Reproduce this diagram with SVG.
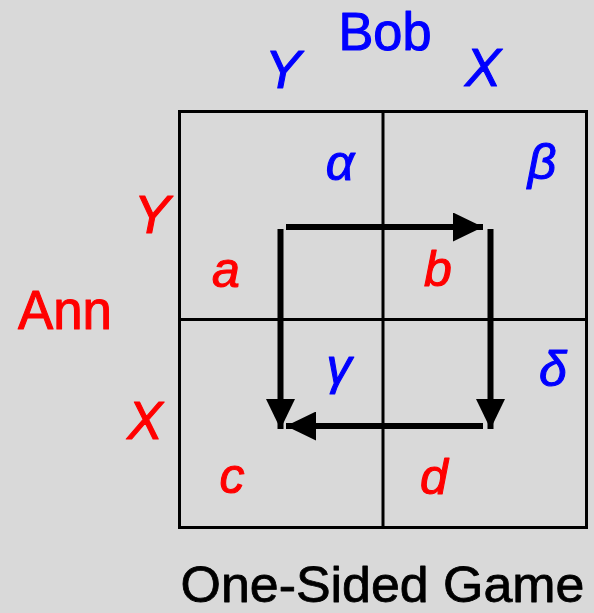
<svg xmlns="http://www.w3.org/2000/svg" width="594" height="613" viewBox="0 0 594 613">
<style>
text{font-family:"Liberation Sans",Arial,sans-serif;text-anchor:middle;stroke-width:1.1px;stroke-linejoin:round}
.blue{fill:#0000ff;stroke:#0000ff}
.red{fill:#ff0000;stroke:#ff0000}
.blk{fill:#000;stroke:#000;stroke-width:0.8px}
.it{font-style:italic}
.cell{font-style:italic;font-size:50px}
.grid{fill:none;stroke:#000;stroke-width:3}
.arr{stroke:#000;stroke-width:6;fill:none;marker-end:url(#ah)}
</style>
<defs>
<marker id="ah" viewBox="0 0 30 29" refX="30" refY="14.5" markerWidth="30" markerHeight="29" markerUnits="userSpaceOnUse" orient="auto">
<path d="M0,0 L30,14.5 L0,29 Z" fill="#000"/>
</marker>
</defs>
<rect width="594" height="613" fill="#d9d9d9"/>
<g id="grid">
<rect class="grid" x="179.5" y="111.5" width="407" height="416"/>
<line class="grid" x1="383" y1="111.5" x2="383" y2="527.5"/>
<line class="grid" x1="179.5" y1="319.5" x2="586.5" y2="319.5"/>
</g>
<g id="labels">
<text class="blue" x="385" y="50" font-size="53" textLength="93" lengthAdjust="spacingAndGlyphs">Bob</text>
<text class="blue it" x="283" y="88" font-size="54">Y</text>
<text class="blue it" x="483" y="86" font-size="54">X</text>
<text class="red" x="65" y="329" font-size="55" textLength="94" lengthAdjust="spacingAndGlyphs">Ann</text>
<text class="red it" x="152" y="233" font-size="54">Y</text>
<text class="red it" x="145" y="439" font-size="53">X</text>
<text class="blk" x="382.5" y="602" font-size="50" textLength="404" lengthAdjust="spacingAndGlyphs">One-Sided Game</text>
</g>
<g id="cells">
<text class="blue cell" x="340" y="180">α</text>
<text class="blue cell" x="542" y="179">β</text>
<text class="blue cell" x="339" y="384">γ</text>
<text class="blue cell" x="553" y="386">δ</text>
<text class="red cell" x="226" y="287">a</text>
<text class="red cell" x="438" y="286">b</text>
<text class="red cell" x="232" y="493">c</text>
<text class="red cell" x="434" y="494">d</text>
</g>
<g id="connectors">
<line class="arr" x1="286" y1="227" x2="483" y2="227"/>
<line class="arr" x1="490.5" y1="229" x2="490.5" y2="429"/>
<line class="arr" x1="483" y1="426" x2="286" y2="426"/>
<line class="arr" x1="280.5" y1="229" x2="280.5" y2="429"/>
</g>
</svg>
